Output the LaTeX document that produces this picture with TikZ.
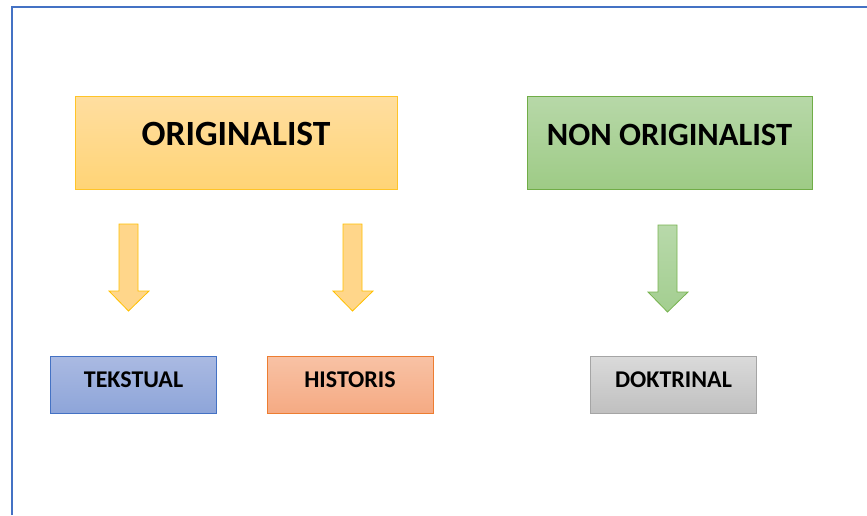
\documentclass[tikz,border=0pt]{standalone}
\usepackage{fontspec}
\setmainfont{Carlito}
\begin{document}
\begin{tikzpicture}[x=1pt,y=-1pt,
  bigbox/.style={draw, line width=0.8pt, rectangle, minimum width=#1, minimum height=93, inner sep=0pt},
  smallbox/.style={draw, line width=0.8pt, rectangle, minimum width=166, minimum height=57, inner sep=0pt,
    font=\fontsize{24}{26}\selectfont\bfseries, text height=15.5, text depth=10.5},
  yel/.style={top color={rgb,255:red,255;green,222;blue,160}, bottom color={rgb,255:red,255;green,212;blue,118}, draw={rgb,255:red,255;green,196;blue,40}},
  grn/.style={top color={rgb,255:red,183;green,216;blue,168}, bottom color={rgb,255:red,158;green,203;blue,134}, draw={rgb,255:red,112;green,173;blue,71}},
  blu/.style={top color={rgb,255:red,170;green,186;blue,226}, bottom color={rgb,255:red,142;green,165;blue,217}, draw={rgb,255:red,68;green,114;blue,196}},
  org/.style={top color={rgb,255:red,248;green,194;blue,165}, bottom color={rgb,255:red,245;green,170;blue,131}, draw={rgb,255:red,237;green,125;blue,49}},
  gry/.style={top color={rgb,255:red,218;green,218;blue,218}, bottom color={rgb,255:red,192;green,192;blue,192}, draw={rgb,255:red,165;green,165;blue,165}},
  yarrow/.style={fill={rgb,255:red,255;green,214;blue,138}, draw={rgb,255:red,255;green,192;blue,0}, line width=0.8pt},
  garrow/.style={top color={rgb,255:red,184;green,217;blue,170}, bottom color={rgb,255:red,163;green,206;blue,144}, draw={rgb,255:red,120;green,180;blue,80}, line width=0.8pt},
  frame/.style={draw={rgb,255:red,68;green,114;blue,196}, line width=2pt}
]
\useasboundingbox (0,0) rectangle (867,515);
\fill[white] (0,0) rectangle (867,515);
\coordinate (f1) at (12,515);
\coordinate (f2) at (12,6.5);
\coordinate (f3) at (867,6.5);
\draw[frame] (f1) -- (f2) -- (f3);

\node[bigbox=322, yel, font=\fontsize{35.5}{38}\selectfont\bfseries, text height=22.5, text depth=17.5] (orig) at (236,142.5) {ORIGINALIST};
\node[bigbox=285, grn, font=\fontsize{32.5}{35}\selectfont\bfseries, text height=21, text depth=15.6] (non) at (669.5,142.5) {NON ORIGINALIST};

\node[smallbox, blu] (tek) at (133.5,384.5) {TEKSTUAL};
\node[smallbox, org] (his) at (350,384.5) {HISTORIS};
\node[smallbox, gry] (dok) at (673.5,384.5) {DOKTRINAL};

% block arrows
\draw[yarrow] (119,224) -- (138,224) -- (138,291) -- (149,291) -- (128.5,311) -- (109,291) -- (119,291) -- cycle;
\draw[yarrow] (343,224) -- (362,224) -- (362,291) -- (373,291) -- (352.5,311) -- (333,291) -- (343,291) -- cycle;
\draw[garrow] (658,225) -- (677,225) -- (677,292) -- (688,292) -- (667.5,312) -- (648,292) -- (658,292) -- cycle;
\end{tikzpicture}
\end{document}
